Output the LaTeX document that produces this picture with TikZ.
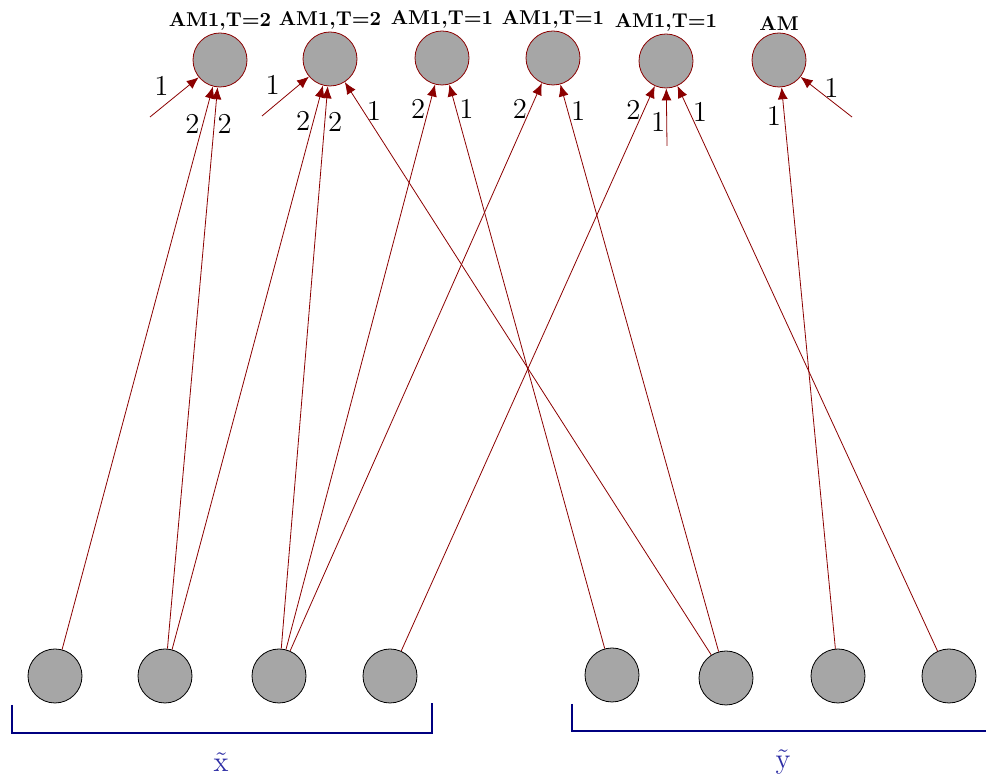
\documentclass[tikz,border=0pt]{standalone}
\usetikzlibrary{arrows.meta}

\definecolor{edgered}{RGB}{139,0,0}
\definecolor{bracketblue}{RGB}{0,0,128}
\definecolor{setblue}{RGB}{45,45,165}

\begin{document}
\begin{tikzpicture}[x=0.5pt, y=0.5pt,
		outnode/.style={circle, draw=edgered, fill=black!35, minimum size=27pt, inner sep=0pt},
		innode/.style={circle, draw=black, fill=black!35, minimum size=27pt, inner sep=0pt},
		amlabel/.style={font=\bfseries, inner sep=1pt},
		wire/.style={-{Latex[length=6pt,width=5pt]}, draw=edgered},
		num/.style={font=\Large, inner sep=1.5pt},
		bracket/.style={draw=bracketblue, line width=1pt},
		setlabel/.style={font=\Large, text=setblue}]

				\useasboundingbox (0,0) rectangle (986,776);

				% Top row
				\node[outnode, label={[amlabel]above:AM1,T=2}] (t1) at (220,716) {};
				\node[outnode, label={[amlabel]above:AM1,T=2}] (t2) at (330,717) {};
				\node[outnode, label={[amlabel]above:AM1,T=1}] (t3) at (442,718) {};
				\node[outnode, label={[amlabel]above:AM1,T=1}] (t4) at (553,718) {};
				\node[outnode, label={[amlabel]above:AM1,T=1}] (t5) at (666,715) {};
				\node[outnode, label={[amlabel]above:AM}] (t6) at (779,716) {};

				% Bottom row, x part
				\node[innode] (b1) at (55,100) {};
				\node[innode] (b2) at (165,100) {};
				\node[innode] (b3) at (279,100) {};
				\node[innode] (b4) at (390,100) {};

				% Bottom row, y part
				\node[innode] (b5) at (612,101) {};
				\node[innode] (b6) at (726,98) {};
				\node[innode] (b7) at (838,100) {};
				\node[innode] (b8) at (949,100) {};

				% Loose ends
				\coordinate (f1) at (150,659);
				\coordinate (f2) at (262,660);
				\coordinate (f5) at (667,630);
				\coordinate (f6) at (852,659);

				% Into t1
				\draw[wire] (f1) -- node[num, pos=0.45, above left] {1} (t1);
				\draw[wire] (b1) -- node[num, pos=0.934, left] {2} (t1);
				\draw[wire] (b2) -- node[num, pos=0.934, right] {2} (t1);

				% Into t2
				\draw[wire] (f2) -- node[num, pos=0.45, above left] {1} (t2);
				\draw[wire] (b2) -- node[num, pos=0.938, left] {2} (t2);
				\draw[wire] (b3) -- node[num, pos=0.936, right] {2} (t2);
				\draw[wire] (b6) -- node[num, pos=0.949, right] {1} (t2);

				% Into t3 and t4
				\draw[wire] (b3) -- node[num, pos=0.957, left] {2} (t3);
				\draw[wire] (b5) -- node[num, pos=0.957, right] {1} (t3);
				\draw[wire] (b3) -- node[num, pos=0.954, left] {2} (t4);
				\draw[wire] (b6) -- node[num, pos=0.954, right] {1} (t4);

				% Into t5
				\draw[wire] (b4) -- node[num, pos=0.957, left] {2} (t5);
				\draw[wire] (f5) -- node[num, pos=0.41, left, inner sep=0.5pt] {1} (t5);
				\draw[wire] (b8) -- node[num, pos=0.954, right] {1} (t5);

				% Into t6
				\draw[wire] (b7) -- node[num, pos=0.949, left] {1} (t6);
				\draw[wire] (f6) -- node[num, pos=0.4, above] {1} (t6);

				% Brackets under the inputs
				\draw[bracket] (12,71) -- (12,43) -- (432,43) -- (432,73);
				\draw[bracket] (572,72) -- (572,45) -- (995,45);
				\node[setlabel] (xset) at (221,14) {\~{x}};
				\node[setlabel] (yset) at (783,14) {\~{y}};
			\end{tikzpicture}
\end{document}
